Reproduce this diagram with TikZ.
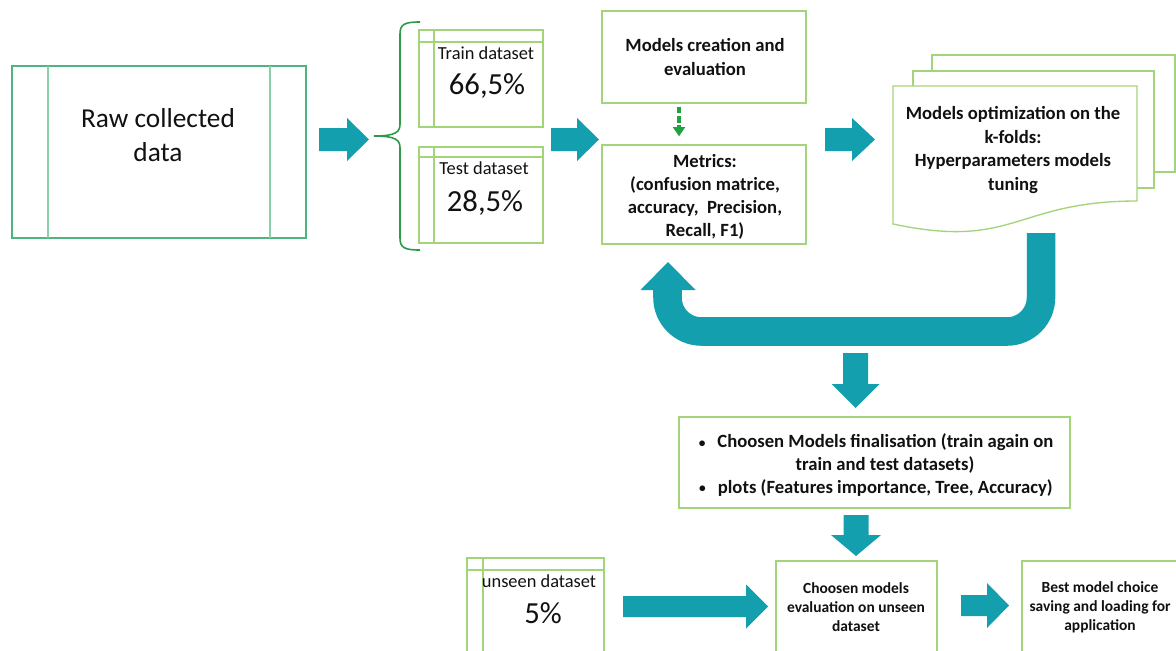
\documentclass[tikz,border=0pt]{standalone}
\usepackage{fontspec}
\setmainfont{Carlito}
\usetikzlibrary{fit,arrows.meta}
\definecolor{tealc}{HTML}{139FAE}
\definecolor{lgreen}{HTML}{A3D47A}
\definecolor{mgreen}{HTML}{4DB57D}
\definecolor{mgreenl}{HTML}{8ACFA5}
\definecolor{dgreen}{HTML}{2E9A48}
\definecolor{agreen}{HTML}{1FA23F}
\definecolor{txt}{HTML}{111111}
\newcommand{\hblk}[6]{\fill[tealc] (#1,{#4-#5}) -- (#2,{#4-#5}) -- (#2,{#4-#6}) -- (#3,#4) -- (#2,{#4+#6}) -- (#2,{#4+#5}) -- (#1,{#4+#5}) -- cycle;}
\newcommand{\vblk}[6]{\fill[tealc] ({#1-#5},#2) -- ({#1+#5},#2) -- ({#1+#5},#3) -- ({#1+#6},#3) -- (#1,#4) -- ({#1-#6},#3) -- ({#1-#5},#3) -- cycle;}
\newcommand{\smbul}{\raisebox{0.05em}{\fontsize{10}{10}\selectfont\textbullet}}
\begin{document}
\begin{tikzpicture}[x=0.75pt,y=-0.75pt,
  gbox/.style={draw=lgreen, line width=1pt, inner sep=0pt},
  lite/.style={draw=lgreen, line width=0.8pt},
  bt/.style={font=\bfseries\fontsize{14}{17.3}\selectfont, align=center, text=txt, inner sep=0pt},
  st/.style={font=\bfseries\fontsize{11.6}{14.3}\selectfont, align=center, text=txt, inner sep=0pt},
  dt/.style={font=\fontsize{13.8}{16}\selectfont, text=txt, inner sep=0pt},
  pct/.style={font=\fontsize{23}{27}\selectfont, text=txt, inner sep=0pt}]
\useasboundingbox (0,0) rectangle (1176,650);
\clip (0,0) rectangle (1176,650);
\fill[white] (0,0) rectangle (1176,650);

% raw data
\node[draw=mgreen, line width=1.1pt, inner sep=0pt, fit={(12,66)(306,238)}] (raw) {};
\draw[mgreenl, line width=1pt] (48,66) -- (48,238) (270,66) -- (270,238);
\node[font=\fontsize{20.5}{25.5}\selectfont, align=center, text=txt, inner sep=0pt] (rawtext) at (158,135) {Raw collected\\data};

% arrow 1 and brace
\hblk{319}{347}{369}{139.5}{11.5}{21.5}
\draw[dgreen, line width=1.2pt] (420,22) .. controls (405,22) and (400,24) .. (400,34) -- (400,124) .. controls (400,132) and (396,136) .. (374,136) .. controls (396,136) and (400,140) .. (400,148) -- (400,238) .. controls (400,248) and (405,250) .. (420,250);

% train / test
\node[gbox, fit={(419,30)(543,127)}] (train) {};
\draw[lite] (434,30) -- (434,127) (419,42) -- (543,42);
\node[dt] (traint) at (486,53) {Train dataset};
\node[pct] (trainp) at (487,86) {66,5\%};
\node[gbox, fit={(419,147)(543,243)}] (test) {};
\draw[lite] (434,147) -- (434,243) (419,157) -- (543,157);
\node[dt] (testt) at (484,168) {Test dataset};
\node[pct] (testp) at (485,203) {28,5\%};

\hblk{551}{577}{599}{139.5}{11.5}{21.5}

% models creation / metrics
\node[gbox, fit={(602,11)(806,103)}] (mc) {};
\node[bt] (mct) at (705,57) {Models creation and\\evaluation};
\node[gbox, fit={(602,145)(806,244)}] (met) {};
\node[bt] (mett) at (705,197) {Metrics:\\(confusion matrice,\\accuracy,\ \ Precision,\\Recall, F1)};
\draw[agreen, line width=2.6pt, dash pattern=on 5pt off 2pt, -{Triangle[width=9pt,length=7pt]}, shorten <=2.25pt, shorten >=6pt] ([xshift=-18.75pt]mc.south) -- ([xshift=-18.75pt]met.north);

\hblk{825}{852}{875}{139.5}{11.5}{21.5}

% multi document
\filldraw[fill=white, draw=lgreen, line width=1pt] (932,55) rectangle (1175,172);
\filldraw[fill=white, draw=lgreen, line width=1pt] (913,71) rectangle (1154,188);
\filldraw[fill=white, draw=lgreen, line width=1pt] (893,86) -- (1137,86) -- (1137,201) .. controls (1015,201) and (1015,250) .. (893,224) -- cycle;
\node[bt, font=\bfseries\fontsize{14}{17.8}\selectfont] (doct) at (1013,150) {Models optimization on the\\k-folds:\\Hyperparameters models\\tuning};

% U arrow
\draw[tealc, line width=21.4pt, rounded corners=25.5pt] (1041,233) -- (1041,331.5) -- (667.5,331.5) -- (667.5,289);
\fill[tealc] (640.5,290) -- (695.5,290) -- (668,262) -- cycle;

\vblk{855.5}{353}{384}{408}{12.5}{24}

% finalisation
\node[gbox, fit={(679,417)(1070,508)}] (fin) {};
\node[bt, font=\bfseries\fontsize{14}{16.9}\selectfont] (fint) at (876,465) {\smbul\hspace{9pt}Choosen Models finalisation (train again on\\\hspace*{13.5pt}train and test datasets)\\\smbul\hspace{9pt}plots (Features importance, Tree, Accuracy)};

\vblk{856}{515}{535}{556}{12.5}{25}

% bottom row
\node[gbox, fit={(467,558)(604,665)}] (unseen) {};
\draw[lite] (483,558) -- (483,665) (467,570) -- (604,570);
\node[dt] (unseent) at (539,581) {unseen dataset};
\node[pct] (unseenp) at (543,613) {5\%};

\hblk{623}{746}{768}{606.5}{10.5}{22}

\node[gbox, fit={(776,561)(937,665)}] (eval) {};
\node[st] (evalt) at (856,607) {Choosen models\\evaluation on unseen\\dataset};

\hblk{961}{987}{1009}{605.5}{10.5}{22.5}

\node[gbox, fit={(1022,561)(1190,665)}] (best) {};
\node[st] (bestt) at (1100,607) {Best model choice\\saving and loading for\\application};
\end{tikzpicture}
\end{document}
